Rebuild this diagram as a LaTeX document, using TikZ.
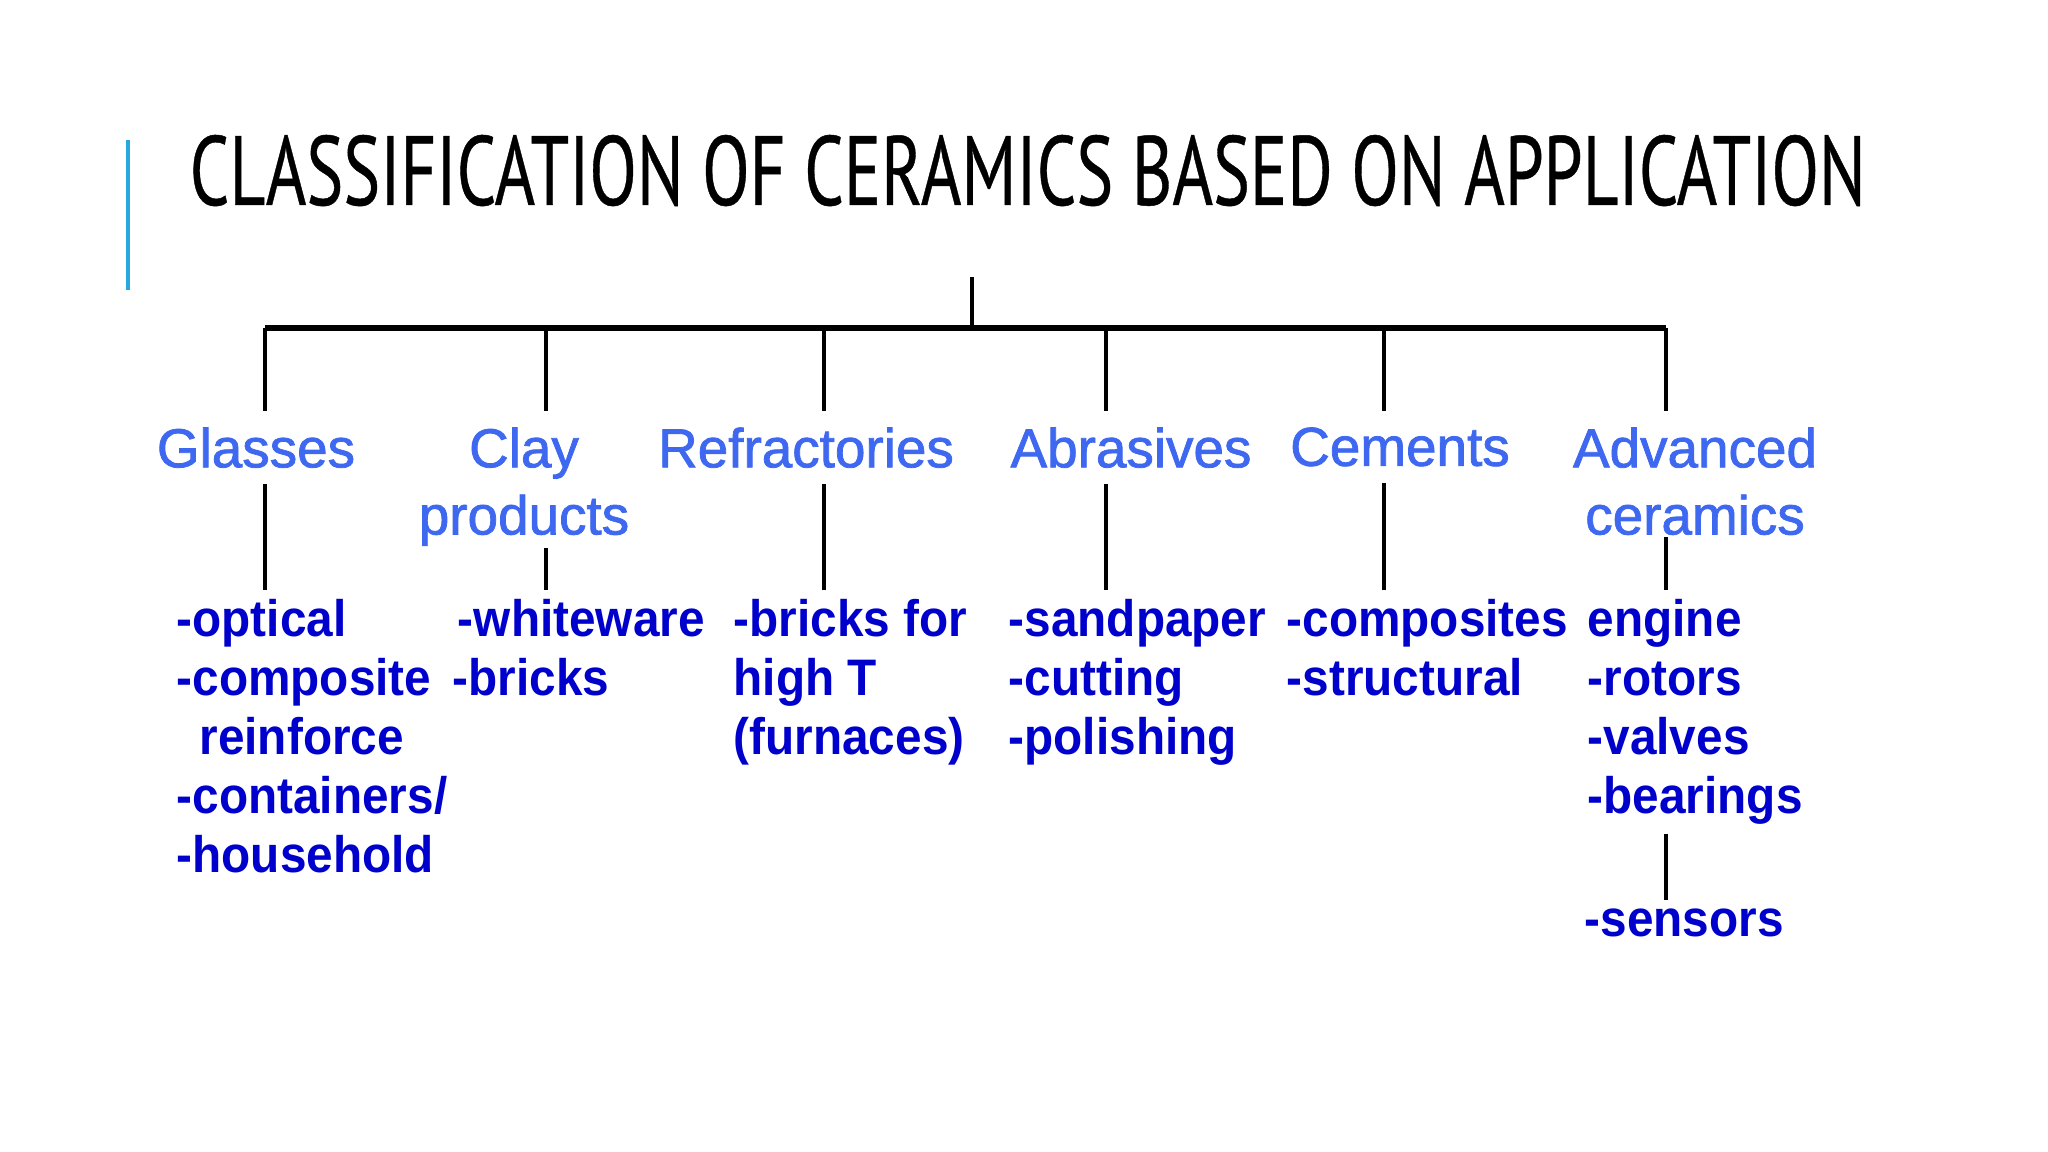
\documentclass[tikz,border=0pt]{standalone}
\usepackage{graphicx}
\usepackage{fontspec}
\setmainfont{Liberation Sans}
\newfontfamily\titlefont[FakeBold=0.5]{PT Sans}
\newfontfamily\catfont[FakeBold=1.4]{Liberation Sans}
\definecolor{catblue}{RGB}{62,104,240}
\definecolor{leafblue}{RGB}{0,0,205}
\definecolor{accentblue}{RGB}{38,168,224}
\newcommand{\heading}[1]{\resizebox{16.75cm}{0.70cm}{\titlefont #1}}

\tikzset{
  cat/.style={anchor=north, align=center, inner xsep=0pt, inner ysep=4.5pt,
    text=catblue, font=\catfont\fontsize{15.6}{19.1}\selectfont},
  leaf/.style={anchor=north west, align=left, inner xsep=0pt, inner ysep=2.4pt,
    text=leafblue, font=\fontsize{14.6}{16.8}\selectfont\bfseries\addfontfeature{FakeStretch=0.93}},
  link/.style={line width=1.3pt, black},
  bar/.style={line width=1.8pt, black},
}

\begin{document}
\begin{tikzpicture}[x=0.01cm, y=-0.01cm]
    \useasboundingbox (0,0) rectangle (2048,1152);
    \draw[line width=0.9pt, accentblue] (128,140) -- (128,290);
    \node[anchor=base west, inner sep=0pt] (title) at (189,205)
      {\heading{CLASSIFICATION OF CERAMICS BASED ON APPLICATION}};

    % skeleton
    \coordinate (root) at (972,277);
    \coordinate (b1) at (265,328);
    \coordinate (b2) at (546,328);
    \coordinate (b3) at (824,328);
    \coordinate (b4) at (1106,328);
    \coordinate (b5) at (1384,328);
    \coordinate (b6) at (1666,328);

    % categories
    \node[cat] (glasses) at (256,411) {Glasses};
    \node[cat] (clay) at (524,411) {Clay\\products};
    \node[cat] (refr) at (806,411) {Refractories};
    \node[cat] (abras) at (1131,411) {Abrasives};
    \node[cat] (cements) at (1400,411) {Cements};
    \node[cat] (adv) at (1695,411) {Advanced\\ceramics};

    % uses
    \node[leaf] (glassesL) at (176,590)
      {-optical\\-composite\\\hspace*{6.5pt}reinforce\\-containers/\\-household};
    \node[leaf] (clayL) at (452,590) {\hspace*{1.5pt}-whiteware\\-bricks};
    \node[leaf] (refrL) at (733,590) {-bricks for\\high T\\(furnaces)};
    \node[leaf] (abrasL) at (1008,590) {-sandpaper\\-cutting\\-polishing};
    \node[leaf] (cementsL) at (1286,590) {-composites\\-structural};
    \node[leaf] (advL) at (1587,590) {engine\\-rotors\\-valves\\-bearings};
    \node[leaf] (sensors) at (1584,900) {-sensors};

    \draw[link] (root) -- (root |- b1);
    \draw[bar] (b1) -- (b6);
    \foreach \br/\ct/\lf/\sh in {b1/glasses/glassesL/0pt, b2/clay/clayL/-4pt,
        b3/refr/refrL/0pt, b4/abras/abrasL/0pt, b5/cements/cementsL/0pt,
        b6/adv/advL/-4pt} {
      \draw[link] (\br) -- (\br |- \ct.north);
      \draw[link, shorten <=\sh] (\br |- \ct.south) -- (\br |- \lf.north);
    }
    \draw[link] (b6 |- advL.south) -- (b6 |- sensors.north);
\end{tikzpicture}
\end{document}
